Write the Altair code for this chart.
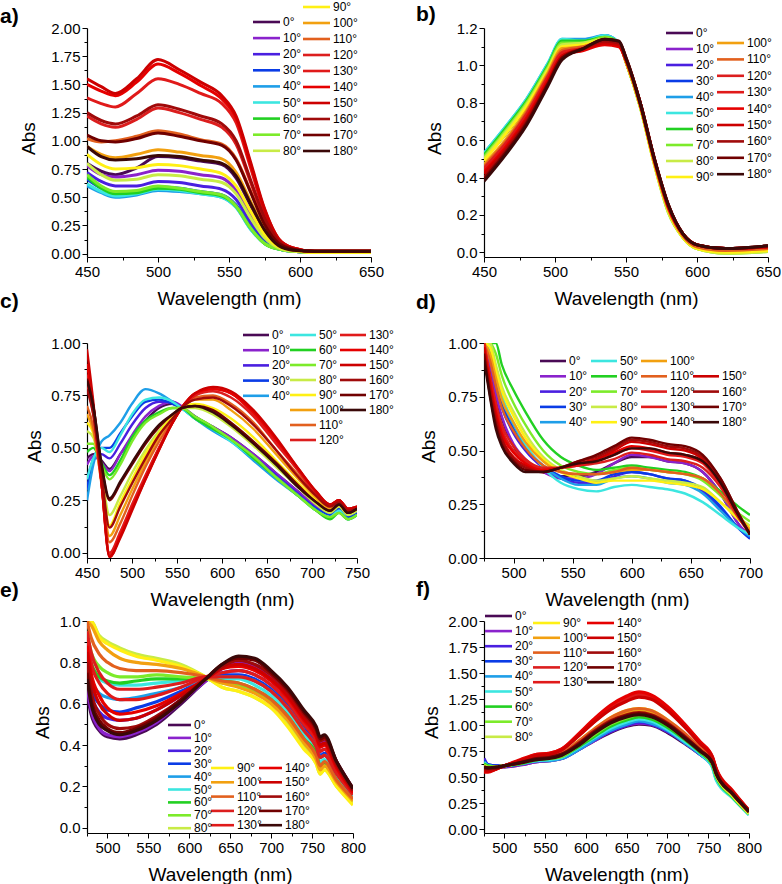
import altair as alt
import pandas as pd

FONT = "Liberation Sans"

# Polarizer angles and their colours (purple -> blue -> green -> yellow -> red -> dark brown)
ANGLES = [0, 10, 20, 30, 40, 50, 60, 70, 80, 90, 100, 110, 120, 130, 140, 150, 160, 170, 180]
ANGLE_LABELS = [f"{a}°" for a in ANGLES]
ANGLE_COLORS = ["#4a0a55", "#8a22cc", "#4a1fe0", "#0a3ce6", "#1e9ee8", "#3ce6e0",
                "#22d022", "#7ceb2a", "#c8eb46", "#fff014", "#f2a010", "#e2601e",
                "#dc1e1e", "#e01a1a", "#e60000", "#cc0000", "#a00a0a", "#700000", "#3a0808"]

# ---- panel a) ----
WL_A = [450, 460, 470, 485, 500, 515, 530, 545, 555, 565, 575, 585, 595, 610, 630, 650]
ABS_A = {
    0:   [0.80, 0.73, 0.70, 0.76, 0.86, 0.85, 0.82, 0.79, 0.67, 0.43, 0.20, 0.07, 0.03, 0.02, 0.01, 0.01],
    10:  [0.78, 0.70, 0.68, 0.70, 0.74, 0.73, 0.70, 0.67, 0.56, 0.35, 0.16, 0.06, 0.02, 0.01, 0.01, 0.01],
    20:  [0.72, 0.64, 0.60, 0.60, 0.64, 0.63, 0.60, 0.57, 0.48, 0.28, 0.12, 0.05, 0.02, 0.01, 0.01, 0.01],
    30:  [0.66, 0.58, 0.54, 0.55, 0.59, 0.58, 0.55, 0.52, 0.43, 0.24, 0.10, 0.04, 0.02, 0.01, 0.01, 0.01],
    40:  [0.60, 0.54, 0.50, 0.52, 0.56, 0.55, 0.53, 0.50, 0.41, 0.22, 0.09, 0.04, 0.02, 0.01, 0.01, 0.01],
    50:  [0.62, 0.55, 0.51, 0.53, 0.57, 0.56, 0.53, 0.50, 0.41, 0.22, 0.09, 0.04, 0.02, 0.01, 0.01, 0.01],
    60:  [0.68, 0.58, 0.53, 0.54, 0.58, 0.57, 0.54, 0.51, 0.42, 0.23, 0.09, 0.04, 0.02, 0.01, 0.01, 0.01],
    70:  [0.70, 0.60, 0.55, 0.56, 0.60, 0.58, 0.55, 0.52, 0.42, 0.23, 0.09, 0.04, 0.02, 0.01, 0.01, 0.01],
    80:  [0.80, 0.70, 0.65, 0.66, 0.70, 0.69, 0.66, 0.63, 0.53, 0.32, 0.14, 0.05, 0.02, 0.01, 0.01, 0.01],
    90:  [0.88, 0.79, 0.75, 0.76, 0.79, 0.78, 0.75, 0.71, 0.60, 0.38, 0.17, 0.06, 0.03, 0.01, 0.01, 0.01],
    100: [0.95, 0.88, 0.85, 0.88, 0.92, 0.90, 0.87, 0.84, 0.72, 0.47, 0.22, 0.08, 0.03, 0.02, 0.02, 0.02],
    110: [1.02, 0.99, 1.00, 1.04, 1.09, 1.06, 1.01, 0.97, 0.84, 0.56, 0.27, 0.09, 0.04, 0.02, 0.02, 0.02],
    120: [1.22, 1.15, 1.12, 1.19, 1.29, 1.25, 1.19, 1.12, 0.97, 0.64, 0.31, 0.10, 0.04, 0.02, 0.02, 0.02],
    130: [1.38, 1.33, 1.30, 1.42, 1.55, 1.50, 1.42, 1.33, 1.16, 0.77, 0.37, 0.12, 0.05, 0.02, 0.02, 0.02],
    140: [1.50, 1.44, 1.40, 1.52, 1.68, 1.60, 1.49, 1.37, 1.20, 0.80, 0.39, 0.13, 0.05, 0.02, 0.02, 0.02],
    150: [1.55, 1.48, 1.42, 1.55, 1.72, 1.63, 1.52, 1.40, 1.22, 0.82, 0.40, 0.13, 0.05, 0.02, 0.02, 0.02],
    160: [1.25, 1.18, 1.15, 1.22, 1.32, 1.28, 1.22, 1.15, 1.00, 0.66, 0.32, 0.11, 0.04, 0.02, 0.02, 0.02],
    170: [1.05, 1.00, 0.99, 1.02, 1.07, 1.04, 1.00, 0.96, 0.83, 0.55, 0.26, 0.09, 0.04, 0.02, 0.02, 0.02],
    180: [0.95, 0.86, 0.83, 0.84, 0.87, 0.86, 0.83, 0.80, 0.69, 0.45, 0.21, 0.07, 0.03, 0.02, 0.02, 0.02],
}

# ---- panel b) ----
WL_B = [450, 465, 480, 495, 505, 520, 535, 545, 550, 560, 570, 580, 590, 600, 620, 650]
ABS_B = {
    0:   [0.50, 0.63, 0.78, 0.97, 1.10, 1.11, 1.14, 1.12, 1.02, 0.79, 0.49, 0.23, 0.09, 0.03, 0.01, 0.02],
    10:  [0.51, 0.64, 0.79, 0.98, 1.11, 1.12, 1.15, 1.12, 1.02, 0.79, 0.49, 0.23, 0.09, 0.03, 0.01, 0.02],
    20:  [0.52, 0.65, 0.80, 0.99, 1.12, 1.12, 1.15, 1.12, 1.02, 0.79, 0.49, 0.23, 0.09, 0.03, 0.01, 0.02],
    30:  [0.53, 0.66, 0.81, 1.00, 1.13, 1.13, 1.16, 1.12, 1.03, 0.79, 0.49, 0.23, 0.09, 0.03, 0.01, 0.015],
    40:  [0.53, 0.67, 0.82, 1.01, 1.14, 1.14, 1.16, 1.12, 1.03, 0.79, 0.49, 0.23, 0.09, 0.03, 0.01, 0.015],
    50:  [0.53, 0.67, 0.82, 1.01, 1.14, 1.13, 1.16, 1.12, 1.03, 0.79, 0.49, 0.23, 0.09, 0.03, 0.005, 0.01],
    60:  [0.52, 0.66, 0.81, 1.00, 1.13, 1.13, 1.15, 1.12, 1.02, 0.78, 0.48, 0.22, 0.08, 0.02, 0.0, 0.005],
    70:  [0.51, 0.65, 0.80, 0.99, 1.12, 1.12, 1.15, 1.12, 1.02, 0.78, 0.47, 0.21, 0.08, 0.02, -0.005, 0.005],
    80:  [0.50, 0.64, 0.79, 0.98, 1.11, 1.12, 1.14, 1.12, 1.02, 0.78, 0.47, 0.21, 0.08, 0.02, -0.005, 0.005],
    90:  [0.49, 0.63, 0.78, 0.97, 1.10, 1.11, 1.14, 1.12, 1.02, 0.78, 0.47, 0.22, 0.08, 0.02, 0.0, 0.01],
    100: [0.47, 0.60, 0.76, 0.96, 1.09, 1.10, 1.13, 1.11, 1.02, 0.79, 0.48, 0.23, 0.09, 0.03, 0.01, 0.02],
    110: [0.46, 0.59, 0.75, 0.95, 1.08, 1.10, 1.13, 1.11, 1.03, 0.79, 0.49, 0.23, 0.09, 0.03, 0.01, 0.02],
    120: [0.45, 0.58, 0.74, 0.94, 1.07, 1.09, 1.12, 1.11, 1.03, 0.79, 0.49, 0.24, 0.10, 0.04, 0.02, 0.03],
    130: [0.44, 0.57, 0.73, 0.93, 1.06, 1.09, 1.12, 1.11, 1.03, 0.80, 0.49, 0.24, 0.10, 0.04, 0.02, 0.03],
    140: [0.43, 0.56, 0.72, 0.92, 1.05, 1.08, 1.11, 1.10, 1.03, 0.80, 0.50, 0.24, 0.10, 0.04, 0.02, 0.03],
    150: [0.42, 0.55, 0.71, 0.91, 1.05, 1.09, 1.12, 1.11, 1.03, 0.80, 0.50, 0.25, 0.10, 0.04, 0.02, 0.03],
    160: [0.40, 0.54, 0.70, 0.90, 1.04, 1.09, 1.13, 1.12, 1.04, 0.80, 0.50, 0.25, 0.10, 0.04, 0.02, 0.035],
    170: [0.39, 0.53, 0.69, 0.90, 1.04, 1.09, 1.14, 1.13, 1.04, 0.80, 0.50, 0.25, 0.10, 0.04, 0.02, 0.035],
    180: [0.38, 0.52, 0.68, 0.89, 1.03, 1.09, 1.14, 1.13, 1.04, 0.80, 0.50, 0.25, 0.10, 0.04, 0.02, 0.035],
}

# ---- panel c) ----
WL_C = [450, 457, 466, 475, 487, 500, 515, 530, 545, 555, 570, 590, 610, 635, 660, 685, 705, 720, 730, 740, 750]
ABS_C = {
    0:   [0.45, 0.47, 0.44, 0.40, 0.47, 0.55, 0.63, 0.69, 0.71, 0.69, 0.65, 0.60, 0.55, 0.47, 0.38, 0.29, 0.22, 0.19, 0.22, 0.18, 0.20],
    10:  [0.42, 0.46, 0.43, 0.39, 0.47, 0.56, 0.65, 0.70, 0.72, 0.70, 0.65, 0.60, 0.55, 0.47, 0.38, 0.29, 0.22, 0.19, 0.22, 0.18, 0.20],
    20:  [0.35, 0.44, 0.47, 0.45, 0.52, 0.61, 0.69, 0.72, 0.72, 0.69, 0.65, 0.59, 0.54, 0.46, 0.37, 0.28, 0.21, 0.18, 0.21, 0.17, 0.19],
    30:  [0.30, 0.45, 0.50, 0.50, 0.57, 0.65, 0.72, 0.73, 0.71, 0.69, 0.64, 0.59, 0.54, 0.45, 0.36, 0.27, 0.21, 0.18, 0.21, 0.17, 0.19],
    40:  [0.25, 0.42, 0.53, 0.56, 0.62, 0.71, 0.78, 0.76, 0.72, 0.69, 0.64, 0.58, 0.53, 0.44, 0.35, 0.27, 0.20, 0.17, 0.20, 0.16, 0.18],
    50:  [0.35, 0.45, 0.50, 0.48, 0.56, 0.66, 0.73, 0.74, 0.72, 0.69, 0.64, 0.59, 0.53, 0.45, 0.36, 0.27, 0.20, 0.17, 0.20, 0.16, 0.18],
    60:  [0.48, 0.50, 0.43, 0.37, 0.44, 0.55, 0.63, 0.67, 0.69, 0.69, 0.64, 0.59, 0.54, 0.45, 0.36, 0.27, 0.20, 0.16, 0.19, 0.16, 0.18],
    70:  [0.52, 0.52, 0.42, 0.35, 0.42, 0.53, 0.62, 0.66, 0.69, 0.69, 0.65, 0.60, 0.54, 0.46, 0.36, 0.27, 0.20, 0.17, 0.19, 0.16, 0.18],
    80:  [0.58, 0.55, 0.38, 0.18, 0.27, 0.38, 0.49, 0.58, 0.65, 0.69, 0.69, 0.66, 0.60, 0.51, 0.41, 0.31, 0.23, 0.19, 0.22, 0.18, 0.20],
    90:  [0.62, 0.57, 0.36, 0.13, 0.24, 0.35, 0.47, 0.57, 0.65, 0.69, 0.71, 0.69, 0.64, 0.55, 0.44, 0.33, 0.25, 0.20, 0.23, 0.19, 0.21],
    100: [0.66, 0.58, 0.34, 0.08, 0.18, 0.30, 0.43, 0.55, 0.64, 0.69, 0.73, 0.73, 0.68, 0.59, 0.47, 0.35, 0.26, 0.21, 0.24, 0.20, 0.21],
    110: [0.70, 0.60, 0.33, 0.05, 0.14, 0.27, 0.41, 0.53, 0.63, 0.69, 0.74, 0.75, 0.71, 0.62, 0.49, 0.37, 0.27, 0.22, 0.24, 0.20, 0.22],
    120: [0.80, 0.66, 0.34, 0.00, 0.10, 0.23, 0.37, 0.50, 0.62, 0.69, 0.75, 0.77, 0.74, 0.65, 0.52, 0.39, 0.28, 0.23, 0.25, 0.21, 0.22],
    130: [0.85, 0.68, 0.34, -0.01, 0.09, 0.22, 0.36, 0.50, 0.62, 0.69, 0.75, 0.78, 0.76, 0.66, 0.53, 0.39, 0.28, 0.23, 0.25, 0.21, 0.22],
    140: [0.90, 0.70, 0.34, -0.02, 0.08, 0.21, 0.35, 0.49, 0.62, 0.69, 0.76, 0.78, 0.76, 0.67, 0.54, 0.40, 0.29, 0.23, 0.25, 0.21, 0.22],
    150: [0.97, 0.72, 0.34, -0.02, 0.07, 0.20, 0.35, 0.49, 0.62, 0.69, 0.76, 0.79, 0.77, 0.68, 0.55, 0.40, 0.29, 0.23, 0.25, 0.21, 0.22],
    160: [0.78, 0.66, 0.38, 0.12, 0.22, 0.33, 0.45, 0.56, 0.64, 0.69, 0.73, 0.74, 0.70, 0.61, 0.49, 0.36, 0.27, 0.22, 0.24, 0.20, 0.21],
    170: [0.83, 0.70, 0.42, 0.25, 0.33, 0.42, 0.52, 0.60, 0.66, 0.69, 0.70, 0.68, 0.62, 0.53, 0.43, 0.32, 0.24, 0.20, 0.23, 0.19, 0.21],
    180: [0.82, 0.70, 0.43, 0.26, 0.34, 0.43, 0.53, 0.61, 0.66, 0.69, 0.70, 0.67, 0.61, 0.52, 0.42, 0.31, 0.24, 0.20, 0.23, 0.19, 0.21],
}

# ---- panel d) ----
WL_D = [475, 480, 485, 490, 500, 510, 525, 540, 555, 570, 585, 600, 615, 630, 645, 660, 675, 690, 700]
ABS_D = {
    0:   [1.05, 0.88, 0.75, 0.65, 0.52, 0.45, 0.40, 0.38, 0.38, 0.40, 0.44, 0.47, 0.47, 0.45, 0.44, 0.40, 0.30, 0.16, 0.10],
    10:  [1.05, 0.90, 0.76, 0.66, 0.53, 0.46, 0.40, 0.37, 0.37, 0.39, 0.44, 0.48, 0.47, 0.45, 0.44, 0.40, 0.30, 0.16, 0.10],
    20:  [1.10, 0.95, 0.80, 0.70, 0.58, 0.50, 0.42, 0.37, 0.35, 0.35, 0.38, 0.40, 0.39, 0.37, 0.36, 0.31, 0.23, 0.14, 0.09],
    30:  [1.10, 0.95, 0.82, 0.72, 0.60, 0.51, 0.43, 0.38, 0.36, 0.36, 0.39, 0.40, 0.39, 0.37, 0.36, 0.32, 0.24, 0.14, 0.09],
    40:  [1.10, 0.97, 0.84, 0.74, 0.62, 0.52, 0.43, 0.37, 0.34, 0.34, 0.37, 0.38, 0.37, 0.35, 0.34, 0.30, 0.22, 0.14, 0.10],
    50:  [1.10, 1.00, 0.86, 0.76, 0.63, 0.53, 0.42, 0.35, 0.32, 0.31, 0.33, 0.34, 0.33, 0.32, 0.30, 0.26, 0.20, 0.14, 0.11],
    60:  [1.15, 1.08, 1.00, 0.90, 0.78, 0.68, 0.55, 0.47, 0.43, 0.41, 0.42, 0.43, 0.42, 0.41, 0.40, 0.37, 0.31, 0.24, 0.20],
    70:  [1.15, 1.05, 0.95, 0.85, 0.72, 0.62, 0.50, 0.43, 0.40, 0.39, 0.41, 0.42, 0.41, 0.40, 0.39, 0.36, 0.29, 0.21, 0.17],
    80:  [1.12, 1.00, 0.90, 0.80, 0.68, 0.58, 0.47, 0.41, 0.38, 0.36, 0.37, 0.38, 0.37, 0.36, 0.35, 0.33, 0.26, 0.19, 0.15],
    90:  [1.10, 0.98, 0.87, 0.78, 0.66, 0.56, 0.46, 0.40, 0.37, 0.35, 0.36, 0.36, 0.36, 0.35, 0.34, 0.32, 0.26, 0.18, 0.14],
    100: [1.08, 0.95, 0.84, 0.74, 0.63, 0.54, 0.45, 0.40, 0.39, 0.39, 0.40, 0.41, 0.41, 0.40, 0.39, 0.37, 0.30, 0.20, 0.13],
    110: [1.05, 0.92, 0.80, 0.70, 0.59, 0.51, 0.43, 0.40, 0.39, 0.39, 0.40, 0.42, 0.41, 0.40, 0.39, 0.37, 0.30, 0.19, 0.12],
    120: [1.00, 0.85, 0.72, 0.62, 0.52, 0.46, 0.42, 0.42, 0.43, 0.44, 0.46, 0.49, 0.48, 0.46, 0.45, 0.42, 0.33, 0.19, 0.11],
    130: [1.00, 0.84, 0.70, 0.60, 0.50, 0.45, 0.41, 0.42, 0.43, 0.45, 0.48, 0.51, 0.50, 0.48, 0.47, 0.44, 0.34, 0.20, 0.11],
    140: [0.98, 0.82, 0.68, 0.58, 0.49, 0.44, 0.41, 0.42, 0.44, 0.46, 0.49, 0.52, 0.51, 0.49, 0.48, 0.45, 0.35, 0.20, 0.11],
    150: [0.98, 0.80, 0.66, 0.56, 0.47, 0.43, 0.40, 0.42, 0.44, 0.46, 0.50, 0.54, 0.53, 0.51, 0.50, 0.46, 0.36, 0.20, 0.11],
    160: [0.95, 0.78, 0.64, 0.55, 0.46, 0.42, 0.40, 0.42, 0.45, 0.47, 0.51, 0.55, 0.54, 0.52, 0.51, 0.47, 0.37, 0.21, 0.11],
    170: [0.95, 0.76, 0.62, 0.53, 0.45, 0.41, 0.40, 0.42, 0.45, 0.48, 0.52, 0.56, 0.55, 0.53, 0.52, 0.48, 0.37, 0.21, 0.11],
    180: [0.92, 0.75, 0.60, 0.52, 0.44, 0.40, 0.40, 0.42, 0.44, 0.45, 0.48, 0.51, 0.51, 0.49, 0.48, 0.45, 0.35, 0.20, 0.11],
}

# ---- panel e) ----
WL_E = [475, 480, 490, 500, 515, 535, 560, 590, 620, 640, 660, 680, 700, 720, 740, 755, 760, 765, 780, 800]
ABS_E = {
    0:   [0.65, 0.55, 0.47, 0.44, 0.43, 0.45, 0.50, 0.60, 0.71, 0.77, 0.80, 0.79, 0.74, 0.66, 0.55, 0.47, 0.42, 0.43, 0.32, 0.19],
    10:  [0.68, 0.57, 0.48, 0.45, 0.44, 0.46, 0.51, 0.61, 0.71, 0.77, 0.80, 0.78, 0.73, 0.65, 0.54, 0.46, 0.41, 0.42, 0.31, 0.18],
    20:  [0.75, 0.64, 0.56, 0.53, 0.52, 0.53, 0.57, 0.64, 0.72, 0.75, 0.76, 0.74, 0.69, 0.61, 0.50, 0.42, 0.37, 0.38, 0.28, 0.17],
    30:  [0.78, 0.67, 0.60, 0.57, 0.56, 0.58, 0.61, 0.66, 0.72, 0.74, 0.74, 0.72, 0.67, 0.59, 0.48, 0.40, 0.35, 0.36, 0.27, 0.16],
    40:  [0.82, 0.72, 0.65, 0.63, 0.62, 0.63, 0.65, 0.68, 0.72, 0.73, 0.73, 0.71, 0.66, 0.58, 0.47, 0.39, 0.34, 0.35, 0.26, 0.15],
    50:  [0.88, 0.78, 0.72, 0.70, 0.69, 0.69, 0.70, 0.71, 0.72, 0.72, 0.72, 0.69, 0.64, 0.56, 0.45, 0.37, 0.32, 0.33, 0.25, 0.15],
    60:  [0.90, 0.80, 0.73, 0.71, 0.70, 0.71, 0.72, 0.72, 0.72, 0.71, 0.70, 0.67, 0.62, 0.54, 0.43, 0.36, 0.30, 0.31, 0.23, 0.13],
    70:  [0.95, 0.85, 0.78, 0.75, 0.73, 0.73, 0.74, 0.73, 0.72, 0.70, 0.69, 0.66, 0.61, 0.53, 0.42, 0.34, 0.29, 0.30, 0.22, 0.12],
    80:  [1.05, 1.00, 0.93, 0.90, 0.87, 0.84, 0.82, 0.79, 0.73, 0.68, 0.66, 0.63, 0.58, 0.50, 0.39, 0.31, 0.26, 0.28, 0.20, 0.12],
    90:  [1.05, 1.00, 0.92, 0.89, 0.86, 0.83, 0.81, 0.78, 0.73, 0.68, 0.66, 0.63, 0.58, 0.49, 0.38, 0.31, 0.26, 0.28, 0.20, 0.11],
    100: [1.05, 0.98, 0.90, 0.86, 0.82, 0.80, 0.79, 0.77, 0.73, 0.70, 0.68, 0.65, 0.60, 0.52, 0.41, 0.33, 0.28, 0.30, 0.22, 0.13],
    110: [1.00, 0.92, 0.84, 0.80, 0.77, 0.76, 0.76, 0.75, 0.73, 0.71, 0.70, 0.67, 0.62, 0.54, 0.43, 0.35, 0.30, 0.32, 0.23, 0.14],
    120: [0.95, 0.85, 0.75, 0.70, 0.67, 0.67, 0.68, 0.70, 0.73, 0.73, 0.73, 0.71, 0.66, 0.58, 0.47, 0.39, 0.34, 0.35, 0.26, 0.16],
    130: [0.92, 0.80, 0.70, 0.65, 0.62, 0.62, 0.64, 0.68, 0.73, 0.75, 0.76, 0.74, 0.69, 0.61, 0.50, 0.42, 0.37, 0.38, 0.28, 0.17],
    140: [0.88, 0.75, 0.64, 0.58, 0.55, 0.56, 0.59, 0.65, 0.72, 0.77, 0.78, 0.76, 0.71, 0.63, 0.52, 0.44, 0.39, 0.40, 0.29, 0.17],
    150: [0.85, 0.72, 0.60, 0.55, 0.52, 0.53, 0.57, 0.64, 0.72, 0.77, 0.79, 0.77, 0.72, 0.64, 0.53, 0.45, 0.40, 0.41, 0.30, 0.18],
    160: [0.80, 0.66, 0.55, 0.50, 0.48, 0.49, 0.54, 0.62, 0.72, 0.78, 0.81, 0.79, 0.74, 0.66, 0.55, 0.47, 0.42, 0.43, 0.31, 0.18],
    170: [0.75, 0.62, 0.52, 0.48, 0.46, 0.48, 0.53, 0.62, 0.72, 0.79, 0.82, 0.81, 0.75, 0.67, 0.56, 0.48, 0.43, 0.44, 0.32, 0.19],
    180: [0.72, 0.60, 0.50, 0.47, 0.45, 0.47, 0.52, 0.61, 0.72, 0.79, 0.83, 0.82, 0.76, 0.68, 0.57, 0.49, 0.44, 0.45, 0.32, 0.19],
}

# ---- panel f) ----
WL_F = [475, 480, 490, 500, 520, 540, 555, 570, 590, 610, 630, 650, 665, 680, 700, 720, 740, 755, 760, 780, 800]
ABS_F = {
    0:   [0.62, 0.60, 0.60, 0.60, 0.62, 0.65, 0.66, 0.68, 0.76, 0.85, 0.93, 0.99, 1.01, 1.00, 0.93, 0.83, 0.72, 0.62, 0.52, 0.33, 0.16],
    10:  [0.63, 0.61, 0.60, 0.60, 0.62, 0.65, 0.66, 0.68, 0.76, 0.85, 0.94, 1.00, 1.02, 1.01, 0.94, 0.84, 0.72, 0.62, 0.52, 0.33, 0.16],
    20:  [0.68, 0.62, 0.61, 0.61, 0.63, 0.66, 0.67, 0.68, 0.76, 0.86, 0.94, 1.00, 1.03, 1.01, 0.94, 0.84, 0.72, 0.62, 0.52, 0.33, 0.16],
    30:  [0.66, 0.62, 0.61, 0.61, 0.63, 0.66, 0.67, 0.69, 0.77, 0.86, 0.95, 1.01, 1.04, 1.02, 0.95, 0.85, 0.73, 0.62, 0.51, 0.32, 0.15],
    40:  [0.65, 0.61, 0.60, 0.61, 0.63, 0.66, 0.66, 0.68, 0.76, 0.86, 0.95, 1.01, 1.04, 1.02, 0.95, 0.84, 0.72, 0.60, 0.48, 0.31, 0.14],
    50:  [0.64, 0.61, 0.60, 0.61, 0.63, 0.66, 0.67, 0.69, 0.78, 0.88, 0.97, 1.03, 1.06, 1.04, 0.96, 0.85, 0.73, 0.60, 0.47, 0.30, 0.14],
    60:  [0.63, 0.61, 0.60, 0.61, 0.63, 0.67, 0.68, 0.70, 0.79, 0.89, 0.99, 1.05, 1.08, 1.06, 0.98, 0.87, 0.74, 0.62, 0.50, 0.31, 0.15],
    70:  [0.62, 0.60, 0.60, 0.61, 0.64, 0.67, 0.68, 0.70, 0.80, 0.91, 1.01, 1.07, 1.10, 1.08, 1.00, 0.88, 0.75, 0.63, 0.51, 0.32, 0.15],
    80:  [0.61, 0.59, 0.60, 0.61, 0.64, 0.68, 0.69, 0.72, 0.83, 0.95, 1.06, 1.13, 1.15, 1.13, 1.04, 0.91, 0.77, 0.64, 0.52, 0.32, 0.15],
    90:  [0.61, 0.59, 0.60, 0.61, 0.64, 0.68, 0.69, 0.72, 0.84, 0.96, 1.07, 1.14, 1.16, 1.14, 1.05, 0.92, 0.77, 0.64, 0.53, 0.33, 0.16],
    100: [0.60, 0.58, 0.59, 0.61, 0.64, 0.68, 0.69, 0.72, 0.82, 0.94, 1.05, 1.11, 1.13, 1.11, 1.03, 0.91, 0.77, 0.65, 0.54, 0.34, 0.17],
    110: [0.59, 0.58, 0.59, 0.61, 0.65, 0.69, 0.70, 0.73, 0.84, 0.96, 1.07, 1.14, 1.16, 1.14, 1.05, 0.93, 0.78, 0.66, 0.55, 0.35, 0.17],
    120: [0.57, 0.56, 0.58, 0.61, 0.66, 0.71, 0.72, 0.76, 0.89, 1.03, 1.16, 1.25, 1.29, 1.27, 1.16, 1.00, 0.83, 0.69, 0.57, 0.36, 0.18],
    130: [0.56, 0.56, 0.58, 0.61, 0.66, 0.72, 0.73, 0.77, 0.90, 1.05, 1.18, 1.27, 1.31, 1.28, 1.17, 1.01, 0.84, 0.69, 0.57, 0.36, 0.18],
    140: [0.55, 0.55, 0.58, 0.61, 0.67, 0.72, 0.73, 0.77, 0.91, 1.06, 1.19, 1.28, 1.32, 1.29, 1.18, 1.02, 0.84, 0.70, 0.58, 0.37, 0.18],
    150: [0.56, 0.56, 0.58, 0.61, 0.66, 0.71, 0.72, 0.76, 0.89, 1.03, 1.15, 1.23, 1.27, 1.25, 1.14, 0.99, 0.82, 0.69, 0.57, 0.36, 0.18],
    160: [0.58, 0.58, 0.59, 0.61, 0.64, 0.68, 0.69, 0.72, 0.82, 0.94, 1.04, 1.10, 1.12, 1.10, 1.02, 0.90, 0.76, 0.65, 0.54, 0.34, 0.17],
    170: [0.59, 0.59, 0.59, 0.61, 0.64, 0.68, 0.69, 0.72, 0.81, 0.93, 1.03, 1.09, 1.11, 1.09, 1.01, 0.89, 0.76, 0.64, 0.53, 0.34, 0.17],
    180: [0.60, 0.59, 0.60, 0.61, 0.64, 0.67, 0.68, 0.71, 0.80, 0.92, 1.02, 1.08, 1.10, 1.08, 1.00, 0.88, 0.75, 0.64, 0.53, 0.34, 0.17],
}


def long_table(wl, spectra):
    rows = []
    for i, a in enumerate(ANGLES):
        for w, v in zip(wl, spectra[a]):
            rows.append({"wl": w, "abs": v, "angle": ANGLE_LABELS[i]})
    return pd.DataFrame(rows)


def legend_table(columns, seg):
    """columns: (angles, line start x, first row y, row step) in plot pixels."""
    rows = []
    for angles, x0, y0, dy in columns:
        for j, a in enumerate(angles):
            rows.append({"angle": f"{a}°", "x1": x0, "x2": x0 + seg,
                         "y": y0 + j * dy, "tx": x0 + seg + 3})
    return pd.DataFrame(rows)


def ticks(lo, hi, step):
    n = int(round((hi - lo) / step))
    return [round(lo + i * step, 4) for i in range(n + 1)]


def major_test(step):
    return f"abs(datum.value / {step} - round(datum.value / {step})) < 0.001"


COLOR = alt.Color("angle:N", scale=alt.Scale(domain=ANGLE_LABELS, range=ANGLE_COLORS), legend=None)


def panel(wl, spectra, *, tag, tag_xy, xdom, xminor, xmajor, ydom, yminor, ymajor, yfmt,
          width, height, yrange, xoffset, ytitle_xy, legend_cols, seg, stroke, clamp=False):
    df = long_table(wl, spectra)
    xt = ticks(xminor[0], xminor[1], xminor[2])
    yt = ticks(yminor[0], yminor[1], yminor[2])
    xaxis = alt.Axis(
        values=xt, format="d", labelExpr=f"{major_test(xmajor)} ? datum.label : ''",
        tickSize={"condition": {"test": major_test(xmajor), "value": 5}, "value": 3},
        title="Wavelength (nm)", titleY=41, titleBaseline="middle",
        offset=xoffset, labelOverlap=False, labelFlush=False,
    )
    yaxis = alt.Axis(
        values=yt, format=yfmt, labelExpr=f"{major_test(ymajor)} ? datum.label : ''",
        tickSize={"condition": {"test": major_test(ymajor), "value": 5}, "value": 3},
        title="Abs", titleX=ytitle_xy[0], titleY=ytitle_xy[1], titleAngle=270,
        titleAlign="center", titleBaseline="middle", labelOverlap=False, labelFlush=False,
    )
    lines = alt.Chart(df).mark_line(strokeWidth=stroke, interpolate="monotone", clip=True).encode(
        x=alt.X("wl:Q", scale=alt.Scale(domain=xdom, nice=False, zero=False), axis=xaxis),
        y=alt.Y("abs:Q", scale=alt.Scale(domain=ydom, nice=False, zero=False,
                                         range=yrange, clamp=clamp), axis=yaxis),
        color=COLOR,
    )
    leg = legend_table(legend_cols, seg)
    leg_lines = alt.Chart(leg).mark_rule(strokeWidth=2.6).encode(
        x=alt.X("x1:Q", scale=None, axis=None),
        x2="x2:Q",
        y=alt.Y("y:Q", scale=None, axis=None),
        color=COLOR,
    )
    leg_text = alt.Chart(leg).mark_text(align="left", baseline="middle", fontSize=12,
                                        font=FONT, color="black").encode(
        x=alt.X("tx:Q", scale=None, axis=None),
        y=alt.Y("y:Q", scale=None, axis=None),
        text="angle:N",
    )
    label = alt.Chart(pd.DataFrame({"t": [tag]})).mark_text(
        align="left", baseline="middle", fontSize=21, fontWeight="bold", font=FONT, color="black"
    ).encode(x=alt.value(tag_xy[0]), y=alt.value(tag_xy[1]), text="t:N")
    return alt.layer(lines, leg_lines, leg_text, label).properties(width=width, height=height)


A0 = ANGLES
pa = panel(WL_A, ABS_A, tag="a)", tag_xy=(-87, -11), xdom=[450, 650], xminor=(450, 650, 25), xmajor=50,
           ydom=[-0.03, 2.0], yminor=(0, 2.0, 0.125), ymajor=0.25, yfmt=".2f",
           width=284, height=252, yrange=[229, 0], xoffset=-23, ytitle_xy=(-59, 110),
           legend_cols=[(A0[0:9], 166, -6, 16.1), (A0[9:19], 216, -21, 16.0)], seg=27, stroke=3.0)

pb = panel(WL_B, ABS_B, tag="b)", tag_xy=(-68, -13), xdom=[450, 650], xminor=(450, 650, 25), xmajor=50,
           ydom=[-0.025, 1.2], yminor=(0, 1.2, 0.1), ymajor=0.2, yfmt=".1f",
           width=284, height=252, yrange=[229, 0], xoffset=-23, ytitle_xy=(-50, 110),
           legend_cols=[(A0[0:10], 182, 5, 16.0), (A0[10:19], 233, 15, 16.4)], seg=27, stroke=3.0)

pc = panel(WL_C, ABS_C, tag="c)", tag_xy=(-87, -41), xdom=[450, 750], xminor=(450, 750, 25), xmajor=50,
           ydom=[-0.025, 1.0], yminor=(0, 1.0, 0.125), ymajor=0.25, yfmt=".2f",
           width=270, height=215, yrange=[215, 0], xoffset=0, ytitle_xy=(-53, 103),
           legend_cols=[(A0[0:5], 156, -8, 15.2), (A0[5:13], 203, -8, 15.0), (A0[13:19], 253, -8, 15.0)],
           seg=26, stroke=2.4)

pd_ = panel(WL_D, ABS_D, tag="d)", tag_xy=(-68, -40), xdom=[475, 700], xminor=(475, 700, 25), xmajor=50,
            ydom=[0, 1.0], yminor=(0, 1.0, 0.125), ymajor=0.25, yfmt=".2f",
            width=266, height=215, yrange=[215, 0], xoffset=0, ytitle_xy=(-56, 103),
            legend_cols=[(A0[0:5], 56, 18, 15.3), (A0[5:10], 107, 18, 15.3), (A0[10:15], 157, 18, 15.3),
                         (A0[15:19], 209, 33.3, 15.3)],
            seg=26, stroke=2.4, clamp=True)

pe = panel(WL_E, ABS_E, tag="e)", tag_xy=(-87, -30), xdom=[475, 800], xminor=(475, 800, 25), xmajor=50,
           ydom=[-0.025, 1.0], yminor=(0, 1.0, 0.1), ymajor=0.2, yfmt=".1f",
           width=266, height=212, yrange=[212, 0], xoffset=0, ytitle_xy=(-45, 101),
           legend_cols=[(A0[0:9], 81, 104, 12.9), (A0[9:14], 124, 147, 14.3), (A0[14:19], 172, 147, 14.3)],
           seg=23, stroke=3.2, clamp=True)

pf = panel(WL_F, ABS_F, tag="f)", tag_xy=(-68, -31), xdom=[475, 800], xminor=(475, 800, 25), xmajor=50,
           ydom=[-0.035, 2.0], yminor=(0, 2.0, 0.125), ymajor=0.25, yfmt=".2f",
           width=265, height=212, yrange=[212, 0], xoffset=0, ytitle_xy=(-53, 101),
           legend_cols=[(A0[0:9], 1, -5, 15.1), (A0[9:14], 49, 2, 14.8), (A0[14:19], 103, 2, 14.8)],
           seg=27, stroke=3.2)

chart = alt.concat(
    pa, pb, pc, pd_, pe, pf, columns=2, spacing={"row": 63, "column": 113}, bounds="flush"
).properties(
    padding={"left": 0, "top": 1, "right": 0, "bottom": 0}, background="white"
).configure_view(stroke=None).configure_axis(
    grid=False, domainColor="black", domainWidth=1.2, tickColor="black", tickWidth=1,
    labelColor="black", labelFont=FONT, labelFontSize=15, labelPadding=2,
    titleFont=FONT, titleFontSize=19, titleFontWeight="normal", titleColor="black",
)

chart.save("out.html", embed_options={"renderer": "svg", "actions": False})
